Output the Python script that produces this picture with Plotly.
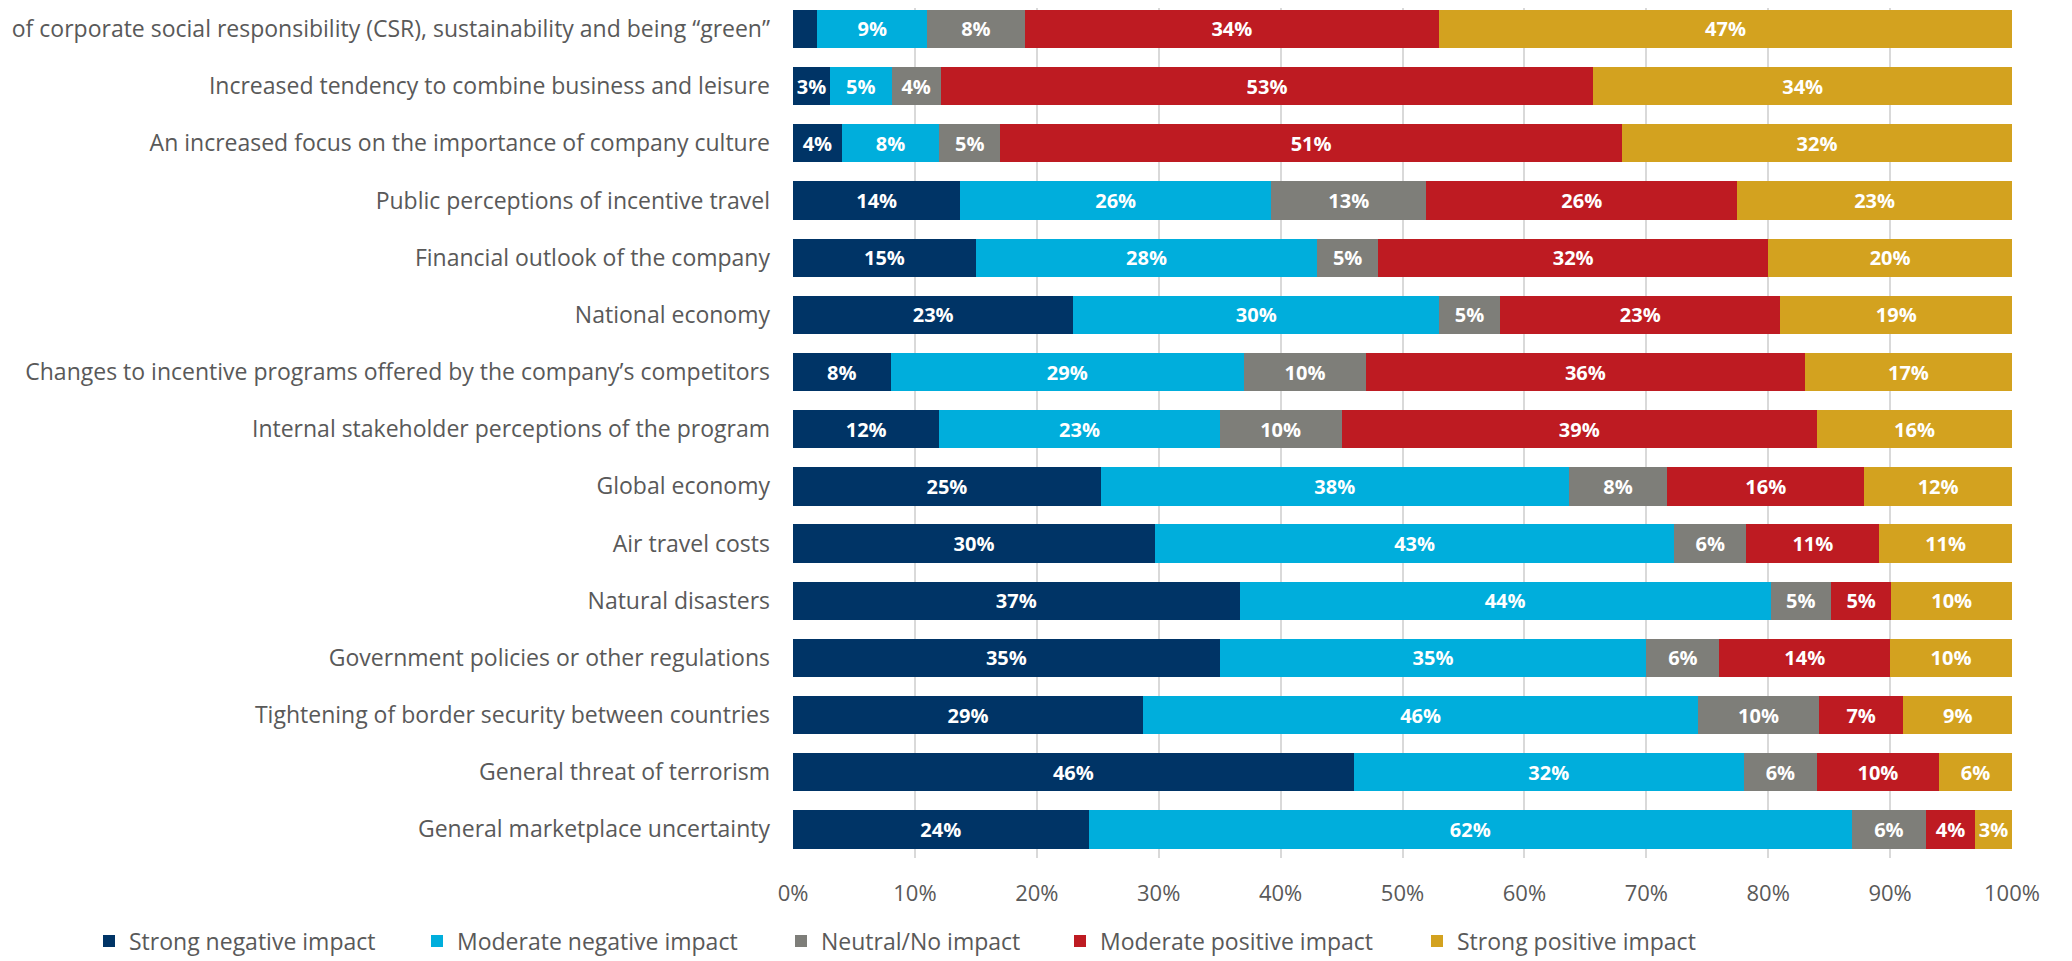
import plotly.graph_objects as go

categories = [
    "Increased awareness of corporate social responsibility (CSR), sustainability and being “green”",
    "Increased tendency to combine business and leisure",
    "An increased focus on the importance of company culture",
    "Public perceptions of incentive travel",
    "Financial outlook of the company",
    "National economy",
    "Changes to incentive programs offered by the company’s competitors",
    "Internal stakeholder perceptions of the program",
    "Global economy",
    "Air travel costs",
    "Natural disasters",
    "Government policies or other regulations",
    "Tightening of border security between countries",
    "General threat of terrorism",
    "General marketplace uncertainty",
]

strong_negative = [2, 3, 4, 14, 15, 23, 8, 12, 25, 30, 37, 35, 29, 46, 24]
moderate_negative = [9, 5, 8, 26, 28, 30, 29, 23, 38, 43, 44, 35, 46, 32, 62]
neutral = [8, 4, 5, 13, 5, 5, 10, 10, 8, 6, 5, 6, 10, 6, 6]
moderate_positive = [34, 53, 51, 26, 32, 23, 36, 39, 16, 11, 5, 14, 7, 10, 4]
strong_positive = [47, 34, 32, 23, 20, 19, 17, 16, 12, 11, 10, 10, 9, 6, 3]

series_names = ["Strong negative impact", "Moderate negative impact", "Neutral/No impact",
                "Moderate positive impact", "Strong positive impact"]
series_values = [strong_negative, moderate_negative, neutral, moderate_positive, strong_positive]
colors = ["#003466", "#00AEDC", "#7E7E79", "#BE1B22", "#D3A21F"]

# figure sized to fit the page's default 8px body margin
W, H = 2064, 953
L, R, T, B = 785, 60, 0, 103
plot_w = W - L - R
plot_h = H - T - B

legend_names = ["legend", "legend2", "legend3", "legend4", "legend5"]
legend_fig_x = [81, 409, 773, 1052, 1409]

fig = go.Figure()
for name, vals, col, lg in zip(series_names, series_values, colors, legend_names):
    labels = [f"{v}%" if v > 2 else "" for v in vals]
    fig.add_trace(go.Bar(
        y=categories, x=vals, name=name, orientation="h",
        marker=dict(color=col, line=dict(width=0)),
        text=labels, textposition="inside", insidetextanchor="middle",
        textangle=0, constraintext="none",
        textfont=dict(family="Open Sans", size=20, color="white", weight="bold"),
        hoverinfo="skip", legend=lg,
    ))

legend_y = -(933 - plot_h) / plot_h
layout_legends = {}
for lg, fx in zip(legend_names, legend_fig_x):
    layout_legends[lg] = dict(
        orientation="h", x=(fx - L) / plot_w, xanchor="left", y=legend_y, yanchor="middle",
        font=dict(size=23, color="#595959"), itemwidth=30, bgcolor="rgba(0,0,0,0)",
    )

fig.update_layout(
    barmode="stack", barnorm="percent", bargap=0.33,
    width=W, height=H,
    margin=dict(l=L, r=R, t=T, b=B, autoexpand=False),
    plot_bgcolor="white", paper_bgcolor="white",
    font=dict(family="Open Sans", size=23, color="#595959"),
    xaxis=dict(range=[0, 100], dtick=10, ticksuffix="%", showgrid=True, gridcolor="#D9D9D9",
               gridwidth=1.5, zeroline=False, showline=False, ticks="",
               ticklabelstandoff=20,
               tickfont=dict(size=22, color="#595959")),
    yaxis=dict(range=[14.5, -0.367], showgrid=False, ticks="", ticklen=0,
               automargin=False, ticklabelstandoff=22,
               tickfont=dict(size=23, color="#595959")),
    showlegend=True,
    **layout_legends,
)

fig.write_html("out.html")
